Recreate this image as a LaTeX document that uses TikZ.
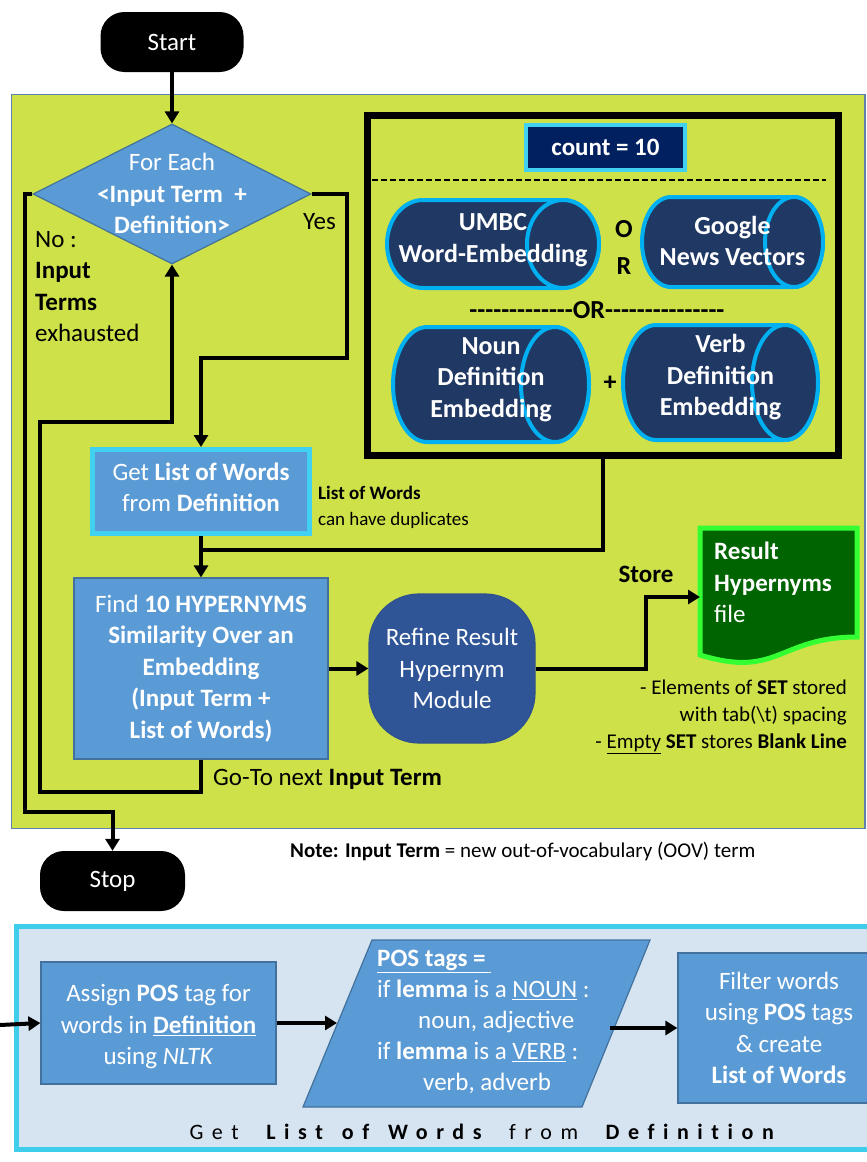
\documentclass[tikz,border=0pt]{standalone}
\usepackage{fontspec}
\setmainfont{Carlito}
\newfontfamily\spacedfont[LetterSpace=39,WordSpace=1.4,Ligatures={NoCommon,NoRequired,NoContextual}]{Carlito}
\usetikzlibrary{arrows.meta,shapes.geometric,calc}

\definecolor{panelgreen}{RGB}{206,225,72}
\definecolor{paneledge}{RGB}{96,128,176}
\definecolor{stepblue}{RGB}{91,155,213}
\definecolor{stepedge}{RGB}{65,113,156}
\definecolor{cyanedge}{RGB}{64,208,240}
\definecolor{navy}{RGB}{0,32,96}
\definecolor{cylfill}{RGB}{32,56,100}
\definecolor{cyledge}{RGB}{0,176,240}
\definecolor{refinefill}{RGB}{47,85,151}
\definecolor{refineedge}{RGB}{47,82,143}
\definecolor{docfill}{RGB}{0,100,0}
\definecolor{docedge}{RGB}{51,255,51}
\definecolor{lowerpanel}{RGB}{214,228,242}
\definecolor{loweredge}{RGB}{62,205,235}

\tikzset{
  conn/.style={line width=4pt, draw=black},
  flow/.style={conn, -{Triangle[length=12pt,width=14pt]}},
  terminal/.style={fill=black, rounded corners=24pt, text=white,
    minimum width=143pt, minimum height=60pt, inner sep=0pt,
    font=\fontsize{25}{30}\selectfont},
  stepbox/.style={rectangle, fill=stepblue, draw=stepedge, line width=1.2pt,
    text=white, align=center, inner sep=0pt,
    font=\fontsize{25}{31.5}\selectfont},
  cyanbox/.style={stepbox, draw=cyanedge, line width=5pt},
  cylshape/.style={fill=cylfill, draw=cyledge, line width=4pt},
  cyltext/.style={text=white, align=center, inner sep=0pt,
    font=\bfseries\fontsize{26}{31.5}\selectfont},
  plain/.style={text=black, inner sep=0pt, font=\fontsize{25}{31.5}\selectfont},
  small/.style={text=black, inner sep=0pt, font=\fontsize{19}{26}\selectfont},
  notefont/.style={text=black, inner sep=0pt, font=\fontsize{21}{27}\selectfont},
}

% a plain hyphen that never joins into a dash ligature
\newcommand\hy{-{}}
\newcommand\hyrun[1]{\foreach \k in {1,...,#1}{\hy}}

% horizontal embedding store: rounded left end, visible end on the right
\newcommand\embcyl[8]{%
  \draw[cylshape] (#2+#6,#3) -- (#4-#6,#3)
     arc[start angle=-90,end angle=90,x radius=#6,y radius={(#5-#3)/2}]
     -- (#2+#6,#5)
     arc[start angle=90,end angle=270,x radius=#6,y radius={(#5-#3)/2}] -- cycle;
  \draw[cylshape] (#4-#6,{(#3+#5)/2}) ellipse[x radius=#6,y radius={(#5-#3)/2}];
  \node[cyltext] (#1) at ({(#2+#4)/2},{(#3+#5)/2+#7}) {#8};
}

\begin{document}
\begin{tikzpicture}[x=1pt,y=-1pt]
\useasboundingbox (0,0) rectangle (867,1162);
\clip (0,0) rectangle (867,1162);
\fill[white] (0,0) rectangle (867,1162);

% ---------- main loop panel ----------
\draw[fill=panelgreen, draw=paneledge, line width=1.5pt] (11.5,94.5) rectangle (865,828.5);

\node[terminal] (start) at (172,42) {Start};
\node[terminal, minimum width=145pt] (stop) at (112.5,881) {Stop};

\node[diamond, fill=stepblue, draw=stepedge, line width=1.2pt,
      minimum width=278pt, minimum height=140pt, inner sep=0pt] (loop) at (172,194) {};
\node[text=white, align=center, inner sep=0pt, font=\fontsize{25}{31.5}\selectfont]
      (looptext) at (172,193.5) {For Each\\ \textbf{<Input Term~~+}\\ \textbf{Definition>}};

\node[plain, anchor=west] (yes) at (303,222) {Yes};
\node[plain, align=left, anchor=north west] (nolabel) at (35,231)
      {No :\\ \textbf{Input}\\ \textbf{Terms}\\ exhausted};

\node[cyanbox, minimum width=217pt, minimum height=84pt] (getlist) at (201,491.5) {};
\node[text=white, align=center, inner sep=0pt, font=\fontsize{25}{31.5}\selectfont]
      (getlisttext) at (201,487.5) {Get \textbf{List of Words}\\ from \textbf{Definition}};
\node[small, align=left, anchor=north west] (dupnote) at (318,486)
      {\textbf{List of Words}\\ can have duplicates};

\node[stepbox, minimum width=254pt, minimum height=181pt] (find) at (201,668.5)
      {Find \textbf{10 HYPERNYMS}\\ \textbf{Similarity Over an}\\ \textbf{Embedding}\\
       \textbf{(Input Term +}\\ \textbf{List of Words)}};

\node[fill=refinefill, draw=refineedge, line width=1.2pt, rounded corners=50pt,
      minimum width=166pt, minimum height=149pt, inner sep=0pt, text=white,
      align=center, font=\fontsize{25}{31.5}\selectfont] (refine) at (452,668.5)
      {Refine Result\\ Hypernym\\ Module};

% result file (document shape with wavy bottom)
\draw[fill=docfill, draw=docedge, line width=5pt]
  (700,528) -- (857,528) -- (857,637)
  .. controls (778.5,637) and (778.5,679) .. (700,655) -- cycle;
\node[text=white, align=left, inner sep=0pt, anchor=north west,
      font=\fontsize{25}{31.5}\selectfont] (doc) at (714,542)
      {\textbf{Result}\\ \textbf{Hypernyms}\\ file};
\node[plain, anchor=center] (store) at (646,574) {\textbf{Store}};

\node[notefont, align=right, anchor=north east] (setnote) at (847,680)
      {- Elements of \textbf{SET} stored\\ with tab(\textbackslash t) spacing\\
       - \underline{Empty} \textbf{SET} stores \textbf{Blank Line}};

\node[plain, anchor=west] (goto) at (213,779) {Go-To next \textbf{Input Term}};

% ---------- embedding choice ----------
\node[draw=black, line width=7pt, minimum width=471pt, minimum height=340pt,
      inner sep=0pt] (emb) at (603,285.5) {};
\node[fill=navy, draw=cyanedge, line width=4pt, minimum width=159pt,
      minimum height=45pt, inner sep=0pt, text=white,
      font=\bfseries\fontsize{25}{30}\selectfont] (count) at (605.5,147.5) {count = 10};
\draw[line width=2.5pt, dash pattern=on 6pt off 3pt] (372,180) -- (826,180);

\embcyl{umbc}{387}{200}{599}{288}{36}{-4}{UMBC\\ Word-Embedding}
\embcyl{google}{642}{197}{823}{287}{29}{-1}{Google\\ News Vectors}
\embcyl{noun}{393}{327}{589}{442}{34}{-5}{Noun\\ Definition\\ Embedding}
\embcyl{verb}{623}{325}{818}{440}{33}{-5}{Verb\\ Definition\\ Embedding}

\node[plain, align=center, font=\bfseries\fontsize{26}{37}\selectfont] (orv) at (624,247) {O\\ R};
\node[plain, font=\bfseries\fontsize{26}{30}\selectfont] (orh) at (597,310)
      {\hyrun{13}OR\hyrun{15}};
\node[plain, font=\bfseries\fontsize{26}{30}\selectfont] (plus) at (610,383) {+};

% ---------- connectors ----------
\coordinate (yesbend) at (347,358);
\coordinate (nobend) at (25,812);
\coordinate (backlow) at (40,792);
\coordinate (backhigh) at (40,422);
\coordinate (join) at (201,550);
\coordinate (storebend) at (646,597);
\coordinate (docin) at (700,597);

\draw[flow] (start) -- (loop.north);
\draw[flow] (loop.east) -| (yesbend) -| (getlist.north);
\draw[flow] (loop.west) -| (nobend) -| (stop.north);
\draw[flow] (find.south) |- (backlow) -- (backhigh) -| (loop.south);
\draw[conn] (emb.south) |- (join);
\draw[flow] (getlist.south) -- (find.north);
\draw[flow] (find.east) -- (refine.west);
\draw[flow] (refine.east) -| (storebend) -- (docin);

\node[notefont, anchor=west] (oov) at (290,852)
      {\textbf{Note: Input Term} = new out-of-vocabulary (OOV) term};

% ---------- list-of-words detail panel ----------
\draw[fill=lowerpanel, draw=loweredge, line width=5pt] (16.5,926.5) rectangle (885,1149.5);

\node[stepbox, minimum width=235pt, minimum height=122pt] (assign) at (158.5,1023) {};
\node[text=white, align=center, inner sep=0pt, font=\fontsize{25}{31.5}\selectfont]
      (assigntext) at (158.5,1027)
      {Assign \textbf{POS} tag for\\ words in \underline{\textbf{Definition}}\\ using \textit{NLTK}};

\draw[fill=stepblue, draw=stepedge, line width=1.2pt]
  (372,940) -- (650,940) -- (582,1107) -- (303,1107) -- cycle;
\coordinate (parin) at (337,1023);
\coordinate (parout) at (610,1028);
\node[text=white, align=left, inner sep=0pt, anchor=north west,
      font=\fontsize{25}{31}\selectfont] (postags) at (377,950)
      {\underline{\textbf{POS tags =\ }}\\
       if \textbf{lemma} is a \underline{NOUN} :\\
       \hspace*{41pt}noun, adjective\\
       if \textbf{lemma} is a \underline{VERB} :\\
       \hspace*{46pt}verb, adverb};

\node[stepbox, minimum width=202pt, minimum height=150pt] (filter) at (779,1028)
      {Filter words\\ using \textbf{POS} tags\\ \& create\\ \textbf{List of Words}};

\coordinate (feed) at (0,1025);
\draw[flow] (feed) -- (assign.west);
\draw[flow] (assign.east) -- (parin);
\draw[flow] (parout) -- (filter.west);

\node[text=black, inner sep=0pt, font=\spacedfont\fontsize{22}{26}\selectfont]
      (caption) at (486,1132) {Get \textbf{List of Words} from \textbf{Definition}};
\end{tikzpicture}
\end{document}
